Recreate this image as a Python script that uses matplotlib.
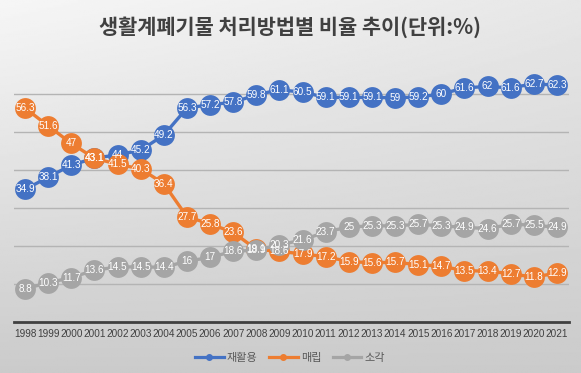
import matplotlib
matplotlib.use("Agg")
import matplotlib.pyplot as plt
from matplotlib.lines import Line2D
import numpy as np

years = [str(y) for y in range(1998, 2022)]
recycle = [34.9, 38.1, 41.3, 43.1, 44, 45.2, 49.2, 56.3, 57.2, 57.8, 59.8, 61.1,
           60.5, 59.1, 59.1, 59.1, 59, 59.2, 60, 61.6, 62, 61.6, 62.7, 62.3]
landfill = [56.3, 51.6, 47, 43.1, 41.5, 40.3, 36.4, 27.7, 25.8, 23.6, 19.1, 18.6,
            17.9, 17.2, 15.9, 15.6, 15.7, 15.1, 14.7, 13.5, 13.4, 12.7, 11.8, 12.9]
incin = [8.8, 10.3, 11.7, 13.6, 14.5, 14.5, 14.4, 16, 17, 18.6, 18.9, 20.3,
         21.6, 23.7, 25, 25.3, 25.3, 25.7, 25.3, 24.9, 24.6, 25.7, 25.5, 24.9]
series_names = ["재활용", "매립", "소각"]
title = "생활계폐기물 처리방법별 비율 추이(단위:%)"

plt.rcParams['font.family'] = ['Noto Sans CJK KR', 'DejaVu Sans']

W, H = 581, 373
fig = plt.figure(figsize=(W/100, H/100), dpi=100)

# gradient background
bg = fig.add_axes([0, 0, 1, 1], zorder=-10)
yy, xx = np.mgrid[0:1:200j, 0:1:300j]
val = 0.965 - 0.17 * yy - 0.06 * xx * (1 - yy)
bg.imshow(val, cmap='gray', vmin=0, vmax=1, aspect='auto', extent=[0, 1, 1, 0])
bg.set_axis_off()

ax = fig.add_axes([13.5/W, 1-322/H, 555/W, (322-56)/H])
ax.set_facecolor('none')
x = np.arange(len(years))
colors = ['#4472C4', '#ED7D31', '#A5A5A5']
label_font = ['Liberation Sans Narrow', 'Liberation Sans']

for z, (vals, c, name) in enumerate(zip([recycle, landfill, incin], colors, series_names)):
    ax.plot(x, vals, color=c, lw=2.4, marker='o', markersize=15, markeredgewidth=0,
            zorder=3+z, label=name)
for vals in [recycle, landfill, incin]:
    for xi, v in zip(x, vals):
        ax.text(xi, v, f"{v:g}", ha='center', va='center', color='white',
                fontsize=7.2, family=label_font, zorder=10)

ax.set_xlim(-0.5, len(years)-0.5)
ax.set_ylim(0, 70)
ax.set_yticks([10, 20, 30, 40, 50, 60])
ax.yaxis.grid(True, color='#b4b4b4', lw=1)
ax.tick_params(axis='y', length=0, labelleft=False)
ax.set_xticks(x)
ax.set_xticklabels(years, fontsize=7.2, color='#404040', family=label_font)
ax.tick_params(axis='x', length=0, pad=5)
for s in ['top', 'right', 'left']:
    ax.spines[s].set_visible(False)
ax.spines['bottom'].set_color('#404040')
ax.spines['bottom'].set_linewidth(2)
ax.set_axisbelow(True)

hs = [Line2D([0], [0], color=c, lw=2.3, marker='o', markersize=4) for c in colors]
fig.legend(hs, series_names, loc='center', bbox_to_anchor=(290/W, 1-358/H), ncol=3,
           frameon=False, fontsize=8, labelcolor='#595959', handlelength=2.6,
           columnspacing=1.0, handletextpad=0.3)

fig.text(290/W, 1-27/H, title, ha='center', va='center', fontsize=15,
         fontweight='bold', color='#404040')

fig.savefig('out.png', dpi=100)
